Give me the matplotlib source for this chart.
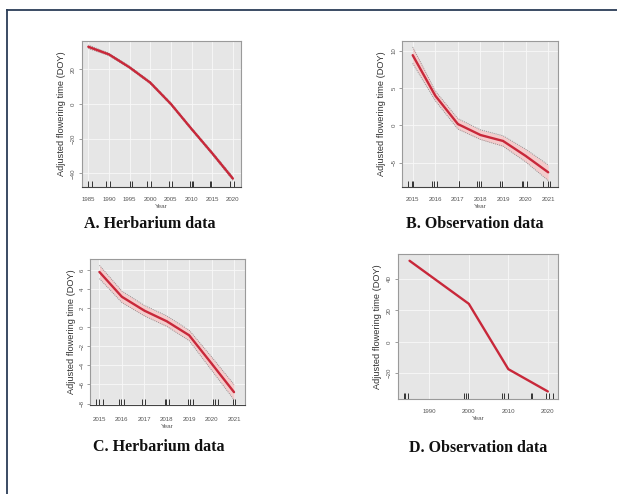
import matplotlib
matplotlib.use("Agg")
import matplotlib.pyplot as plt
from matplotlib.lines import Line2D

# ---------------- data ----------------
yearsA = [1985, 1990, 1995, 2000, 2005, 2010, 2015, 2020]
fitA = [33.0, 28.6, 21.1, 12.3, 0.0, -14.4, -28.4, -43.0]
upA = [34.0, 29.3, 21.8, 13.0, 0.7, -13.7, -27.6, -42.0]
loA = [32.0, 27.9, 20.4, 11.6, -0.7, -15.1, -29.2, -44.0]
rugA = [1985.0, 1986.0, 1989.2, 1990.2, 1995.1, 1995.6, 1999.1, 2000.3,
        2004.6, 2005.2, 2009.6, 2010.1, 2010.4, 2014.4, 2014.7, 2019.3, 2020.3]
xticksA = [1985, 1990, 1995, 2000, 2005, 2010, 2015, 2020]
yticksA = [-40, -20, 0, 20]

yearsB = [2015, 2016, 2017, 2018, 2019, 2020, 2021]
fitB = [9.4, 3.97, 0.17, -1.3, -2.1, -4.1, -6.3]
upB = [10.5, 4.6, 0.9, -0.6, -1.4, -3.2, -5.3]
loB = [8.3, 3.3, -0.5, -1.9, -2.8, -4.9, -7.4]
rugB = [2014.8, 2014.95, 2015.03, 2015.85, 2015.95, 2016.08, 2017.05, 2017.06,
        2017.85, 2017.95, 2018.03, 2018.88, 2018.97, 2019.82, 2019.87, 2020.05,
        2020.78, 2021.0, 2021.08]
xticksB = [2015, 2016, 2017, 2018, 2019, 2020, 2021]
yticksB = [-5, 0, 5, 10]

yearsC = [2015, 2016, 2017, 2018, 2019, 2020, 2021]
fitC = [5.8, 3.2, 1.75, 0.63, -0.84, -3.8, -6.8]
upC = [6.5, 3.8, 2.3, 1.2, -0.3, -3.1, -6.0]
loC = [5.1, 2.6, 1.2, 0.1, -1.4, -4.5, -7.6]
rugC = [2014.83, 2014.98, 2015.15, 2015.87, 2015.98, 2016.1, 2016.92, 2017.02,
        2017.91, 2017.99, 2018.12, 2018.95, 2019.04, 2019.16, 2020.08, 2020.14,
        2020.27, 2020.97, 2021.04]
xticksC = [2015, 2016, 2017, 2018, 2019, 2020, 2021]
yticksC = [-8, -6, -4, -2, 0, 2, 4, 6]

yearsD = [1985, 2000, 2010, 2020]
fitD = [51.6, 24.2, -17.4, -31.6]
rugD = [1983.5, 1983.9, 1984.7, 1998.9, 1999.2, 1999.7, 2008.5, 2008.9,
        2009.8, 2015.7, 2015.96, 2019.5, 2020.4, 2021.2]
xticksD = [1990, 2000, 2010, 2020]
yticksD = [-20, 0, 20, 40]

titles = ["A. Herbarium data", "B. Observation data",
          "C. Herbarium data", "D. Observation data"]
ylabel_text = "Adjusted flowering time (DOY)"
xlabel_text = "Year"

# ---------------- figure ----------------
W, H = 617, 494
fig = plt.figure(figsize=(W / 100, H / 100), dpi=100)
fig.patch.set_facecolor("white")

def rect(l, t, r, b):
    return [l / W, 1 - b / H, (r - l) / W, (b - t) / H]

RED = "#c8283a"
BAND = "#f3cccc"
BG = "#e6e6e6"

def panel(pos, years, fit, up, lo, rug, xt, yt, xlim, ylim, dark_bottom=True,
          tickpad=7.0, ylabpad=2.0):
    ax = fig.add_axes(rect(*pos))
    ax.set_facecolor(BG)
    ax.set_xlim(*xlim)
    ax.set_ylim(*ylim)
    ax.set_xticks(xt)
    ax.set_yticks(yt)
    ax.grid(True, color="#f8f8f8", linewidth=0.6)
    ax.set_axisbelow(True)
    if up is not None:
        ax.fill_between(years, lo, up, color=BAND, linewidth=0, zorder=2)
        ax.plot(years, up, color="#8a8a8a", linestyle=(0, (1.2, 1.2)), linewidth=0.6, zorder=3)
        ax.plot(years, lo, color="#8a8a8a", linestyle=(0, (1.2, 1.2)), linewidth=0.6, zorder=3)
    ax.plot(years, fit, color=RED, linewidth=1.7, zorder=4, solid_capstyle="round")
    ax.vlines(rug, 0, 0.04, transform=ax.get_xaxis_transform(), color="#333333",
              linewidth=0.7, zorder=5)
    for s in ax.spines.values():
        s.set_color("#9a9a9a")
        s.set_linewidth(0.8)
    if dark_bottom:
        ax.spines["bottom"].set_color("#444444")
    ax.tick_params(axis="x", length=0, pad=tickpad, labelsize=4.4, labelcolor="#555555")
    ax.tick_params(axis="y", length=2.5, width=0.5, color="#777777", pad=1.5,
                   labelsize=4.4, labelcolor="#555555")
    for lab in ax.get_yticklabels():
        lab.set_rotation(90)
        lab.set_va("center")
    ax.set_ylabel(ylabel_text, fontsize=6.7, color="#333333", labelpad=ylabpad,
                  family="Liberation Sans")
    ax.set_xlabel(xlabel_text, fontsize=4.6, color="#555555", labelpad=1.5)
    for lab in ax.get_xticklabels() + ax.get_yticklabels():
        lab.set_family("Liberation Sans")
    ax.xaxis.label.set_family("Liberation Sans")
    return ax

axA = panel((81.7, 40.7, 240.7, 186.7), yearsA, fitA, upA, loA, rugA, xticksA, yticksA,
            (1983.4, 2021.9), (-47.7, 36.5), tickpad=7.5, ylabpad=4.0)
axB = panel((402.3, 41.0, 557.7, 186.7), yearsB, fitB, upB, loB, rugB, xticksB, yticksB,
            (2014.54, 2021.42), (-8.23, 11.3), tickpad=7.5, ylabpad=4.0)
axC = panel((90.0, 259.0, 245.0, 405.0), yearsC, fitC, upC, loC, rugC, xticksC, yticksC,
            (2014.58, 2021.49), (-8.15, 7.16), tickpad=8.5, ylabpad=2.5)
axD = panel((397.7, 254.0, 557.7, 399.0), yearsD, fitD, None, None, rugD, xticksD, yticksD,
            (1982.0, 2022.5), (-36.4, 55.9), dark_bottom=False, tickpad=7.0, ylabpad=4.0)

# panel captions
cap_pos = [(150, 224), (474.5, 224), (158.3, 447.3), (478, 448.3)]
for (cx, cy), t in zip(cap_pos, titles):
    fig.text(cx / W, 1 - cy / H, t, ha="center", va="center", fontsize=11.5,
             fontweight="bold", family="Liberation Serif", color="#111111")

# frame lines (top and left)
frame_color = "#2b3d57"
fig.add_artist(Line2D([7 / W, 1.0], [1 - 10 / H, 1 - 10 / H], color=frame_color,
                      linewidth=1.3, transform=fig.transFigure))
fig.add_artist(Line2D([7 / W, 7 / W], [0.0, 1 - 10 / H], color=frame_color,
                      linewidth=1.3, transform=fig.transFigure))

fig.savefig("out.png", dpi=100, facecolor="white")
